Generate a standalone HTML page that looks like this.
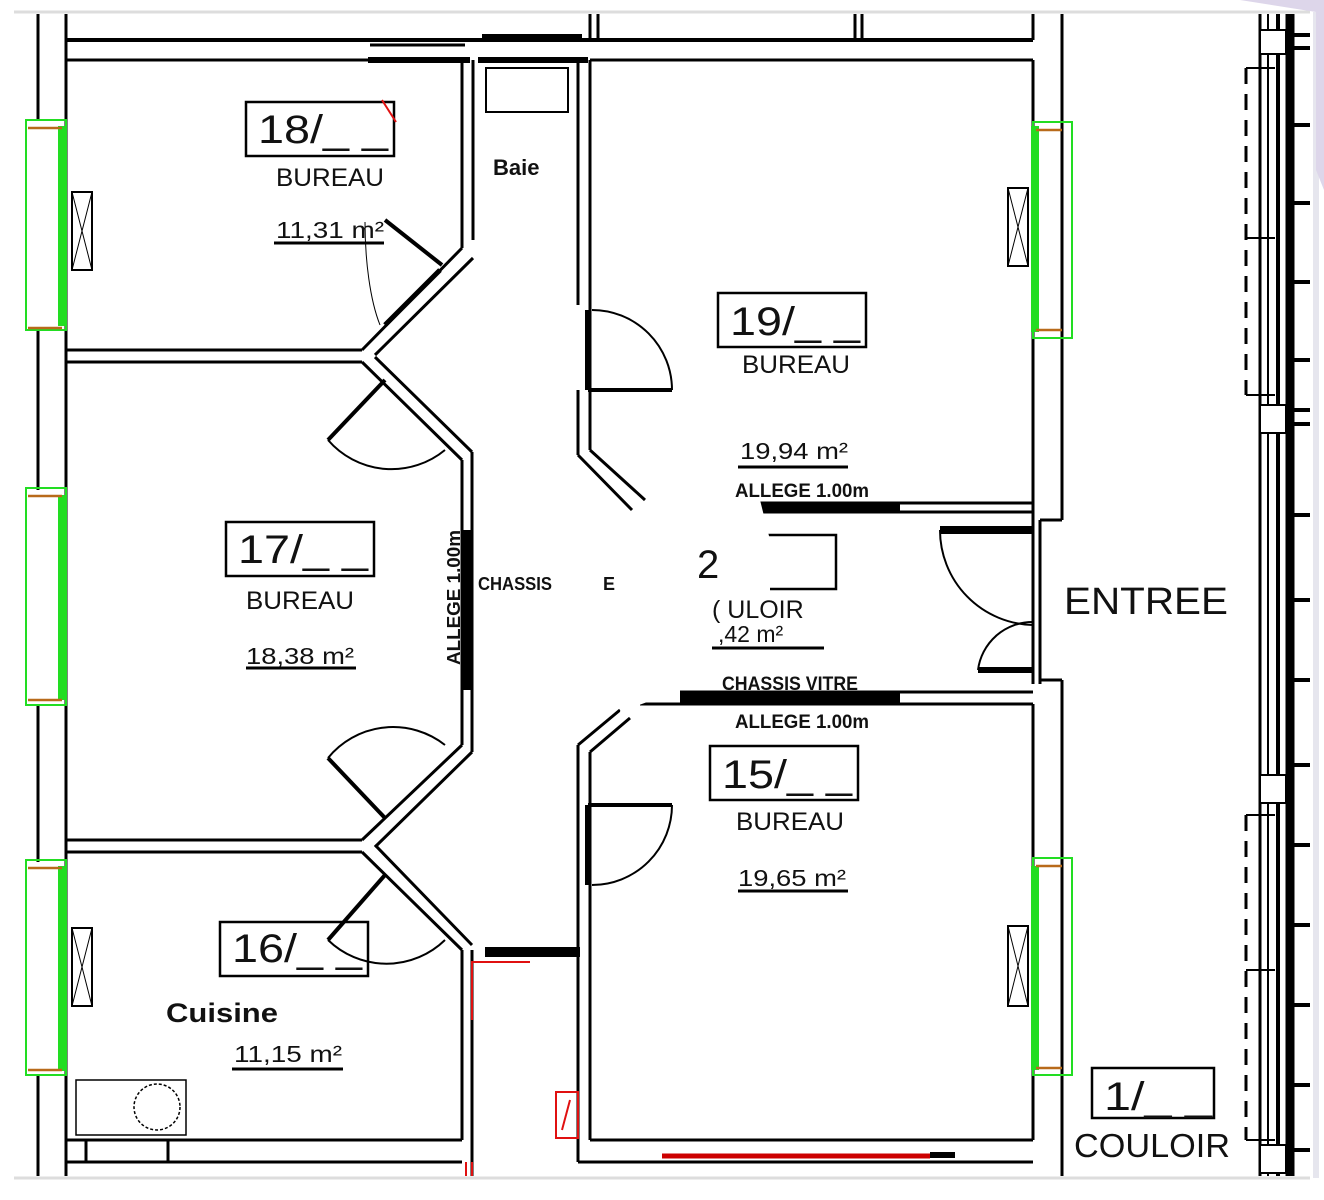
<!DOCTYPE html>
<html><head><meta charset="utf-8"><style>
html,body{margin:0;padding:0;background:#fff;width:1324px;height:1200px;overflow:hidden}
svg{display:block}
text{font-family:"Liberation Sans",sans-serif;fill:#111}
</style></head><body>
<svg width="1324" height="1200" viewBox="0 0 1324 1200" xmlns="http://www.w3.org/2000/svg">
<rect x="0" y="0" width="1324" height="1200" fill="#fff"/>
<line x1="14" y1="12" x2="1310" y2="12" stroke="#ddd" stroke-width="3"/>
<line x1="14" y1="1178" x2="1310" y2="1178" stroke="#ddd" stroke-width="3"/>
<line x1="1316" y1="12" x2="1316" y2="1178" stroke="#e6e6ee" stroke-width="6"/>
<polygon points="1110,0 1324,0 1324,190 1316,170 1316,12 1240,0" fill="#ddd6ea"/>
<g stroke="#000" fill="none" stroke-width="3">
<line x1="38" y1="14" x2="38" y2="120"/><line x1="38" y1="330" x2="38" y2="490"/>
<line x1="38" y1="705" x2="38" y2="862"/><line x1="38" y1="1075" x2="38" y2="1176"/>
<line x1="66" y1="14" x2="66" y2="1176"/>
<line x1="66" y1="40" x2="1033" y2="40" stroke-width="4"/>
<line x1="66" y1="60" x2="465" y2="60"/>
<line x1="370" y1="45" x2="465" y2="45" stroke-width="3"/>
<line x1="368" y1="60" x2="470" y2="60" stroke-width="6"/>
<line x1="482" y1="38" x2="582" y2="38" stroke-width="8"/>
<line x1="478" y1="60" x2="588" y2="60" stroke-width="6"/>
<line x1="590" y1="60" x2="1033" y2="60"/>
<line x1="590" y1="14" x2="590" y2="40"/><line x1="598" y1="14" x2="598" y2="40"/>
<line x1="855" y1="14" x2="855" y2="40"/><line x1="862" y1="14" x2="862" y2="40"/>
<line x1="1033" y1="14" x2="1033" y2="40"/>
<rect x="486" y="68" width="82" height="44" stroke-width="2"/>
<line x1="66" y1="350" x2="362" y2="350"/><line x1="66" y1="362" x2="362" y2="362"/>
<line x1="66" y1="840" x2="362" y2="840"/><line x1="66" y1="852" x2="362" y2="852"/>
<line x1="462" y1="60" x2="462" y2="248"/><line x1="473" y1="60" x2="473" y2="240"/>
<line x1="462" y1="248" x2="362" y2="350"/><line x1="473" y1="258" x2="375" y2="355"/>
<line x1="440" y1="270" x2="385" y2="325" stroke-width="5"/>
<line x1="385" y1="220" x2="442" y2="265" stroke-width="4"/>
<path d="M 365 222 C 365 260 370 300 380 325" stroke-width="1"/>
<line x1="362" y1="362" x2="462" y2="460"/><line x1="375" y1="357" x2="472" y2="452"/>
<line x1="462" y1="460" x2="462" y2="745"/><line x1="472" y1="452" x2="472" y2="752"/>
<line x1="467" y1="530" x2="467" y2="690" stroke-width="10"/>
<line x1="462" y1="745" x2="362" y2="840"/><line x1="472" y1="752" x2="375" y2="847"/>
<line x1="362" y1="852" x2="462" y2="950"/><line x1="375" y1="845" x2="472" y2="945"/>
<line x1="472" y1="950" x2="472" y2="1176"/><line x1="462" y1="950" x2="462" y2="1140"/>
<line x1="485" y1="952" x2="580" y2="952" stroke-width="10"/>
<line x1="385" y1="380" x2="328" y2="440" stroke-width="4"/>
<path d="M 328 440 A 84 84 0 0 0 445 450" stroke-width="2"/>
<line x1="385" y1="818" x2="328" y2="758" stroke-width="4"/>
<path d="M 328 758 A 84 84 0 0 1 445 745" stroke-width="2"/>
<line x1="385" y1="875" x2="328" y2="940" stroke-width="4"/>
<path d="M 328 940 A 84 84 0 0 0 445 940" stroke-width="2"/>
<line x1="578" y1="60" x2="578" y2="305"/><line x1="590" y1="60" x2="590" y2="390"/>
<line x1="578" y1="390" x2="578" y2="455"/><line x1="590" y1="390" x2="590" y2="450"/>
<line x1="578" y1="455" x2="632" y2="510"/><line x1="590" y1="450" x2="645" y2="500"/>
<line x1="588" y1="310" x2="588" y2="390" stroke-width="6"/>
<line x1="588" y1="390" x2="672" y2="390" stroke-width="4"/>
<path d="M 592 310 A 80 80 0 0 1 672 390" stroke-width="2"/>
<line x1="578" y1="745" x2="620" y2="710"/><line x1="590" y1="752" x2="630" y2="718"/>
<line x1="578" y1="745" x2="578" y2="1140"/><line x1="590" y1="752" x2="590" y2="1140"/>
<line x1="588" y1="805" x2="672" y2="805" stroke-width="4"/>
<line x1="588" y1="805" x2="588" y2="885" stroke-width="6"/>
<path d="M 672 805 A 80 80 0 0 1 592 885" stroke-width="2"/>
<line x1="1033" y1="60" x2="1033" y2="520"/>
<line x1="760" y1="503" x2="1033" y2="503"/><line x1="760" y1="512" x2="1033" y2="512"/>
<line x1="760" y1="508" x2="900" y2="508" stroke-width="9"/>
<line x1="1040" y1="520" x2="1040" y2="684"/><line x1="1033" y1="520" x2="1033" y2="684"/>
<line x1="940" y1="530" x2="1033" y2="530" stroke-width="8"/>
<path d="M 940 530 A 95 95 0 0 0 1033 625" stroke-width="2"/>
<line x1="978" y1="670" x2="1033" y2="670" stroke-width="6"/>
<path d="M 978 670 A 55 55 0 0 1 1033 622" stroke-width="2"/>
<line x1="1040" y1="520" x2="1062" y2="520"/><line x1="1040" y1="680" x2="1062" y2="680"/>
<line x1="680" y1="692" x2="1033" y2="692"/><line x1="640" y1="704" x2="1033" y2="704"/>
<line x1="680" y1="698" x2="900" y2="698" stroke-width="10"/>
<line x1="1033" y1="704" x2="1033" y2="1140"/>
<line x1="1062" y1="14" x2="1062" y2="520"/><line x1="1062" y1="680" x2="1062" y2="1176"/>
<line x1="66" y1="1140" x2="462" y2="1140"/><line x1="66" y1="1162" x2="462" y2="1162"/>
<line x1="86" y1="1140" x2="86" y2="1162"/><line x1="168" y1="1140" x2="168" y2="1162"/>
<line x1="590" y1="1140" x2="1033" y2="1140"/><line x1="578" y1="1162" x2="1033" y2="1162"/>
<line x1="578" y1="1140" x2="578" y2="1162"/>
<line x1="930" y1="1155" x2="955" y2="1155" stroke-width="6"/>
<rect x="72" y="192" width="20" height="78" stroke-width="2"/><path d="M72 192 L92 270 M92 192 L72 270" stroke-width="1"/>
<rect x="72" y="928" width="20" height="78" stroke-width="2"/><path d="M72 928 L92 1006 M92 928 L72 1006" stroke-width="1"/>
<rect x="1008" y="188" width="20" height="78" stroke-width="2"/><path d="M1008 188 L1028 266 M1028 188 L1008 266" stroke-width="1"/>
<rect x="1008" y="926" width="20" height="80" stroke-width="2"/><path d="M1008 926 L1028 1006 M1028 926 L1008 1006" stroke-width="1"/>
<rect x="76" y="1080" width="110" height="55" stroke-width="1.5"/>
<circle cx="157" cy="1107" r="23" stroke-width="1.5" stroke-dasharray="3 2"/>
<line x1="1260" y1="14" x2="1260" y2="1176"/>
<line x1="1268" y1="14" x2="1268" y2="1176" stroke-width="2"/>
<line x1="1278" y1="14" x2="1278" y2="1176" stroke-width="4"/>
<line x1="1290" y1="14" x2="1290" y2="1176" stroke-width="9"/>
<rect x="1260" y="30" width="26" height="24" fill="#fff" stroke-width="2"/>
<rect x="1260" y="405" width="26" height="28" fill="#fff" stroke-width="2"/>
<rect x="1260" y="775" width="26" height="28" fill="#fff" stroke-width="2"/>
<rect x="1260" y="1145" width="26" height="28" fill="#fff" stroke-width="2"/>
<g stroke-width="4">
<line x1="1292" y1="35" x2="1310" y2="35"/><line x1="1292" y1="48" x2="1310" y2="48"/>
<line x1="1292" y1="125" x2="1310" y2="125"/><line x1="1292" y1="203" x2="1310" y2="203"/>
<line x1="1292" y1="282" x2="1310" y2="282"/><line x1="1292" y1="360" x2="1310" y2="360"/>
<line x1="1292" y1="410" x2="1310" y2="410"/><line x1="1292" y1="424" x2="1310" y2="424"/>
<line x1="1292" y1="515" x2="1310" y2="515"/><line x1="1292" y1="600" x2="1310" y2="600"/>
<line x1="1292" y1="680" x2="1310" y2="680"/><line x1="1292" y1="765" x2="1310" y2="765"/>
<line x1="1292" y1="845" x2="1310" y2="845"/><line x1="1292" y1="925" x2="1310" y2="925"/>
<line x1="1292" y1="1005" x2="1310" y2="1005"/><line x1="1292" y1="1085" x2="1310" y2="1085"/>
<line x1="1292" y1="1150" x2="1310" y2="1150"/>
</g>
<g stroke-width="3" stroke-dasharray="16 10">
<line x1="1246" y1="68" x2="1246" y2="395"/><line x1="1246" y1="815" x2="1246" y2="1140"/>
</g>
<g stroke-width="2">
<line x1="1246" y1="68" x2="1275" y2="68"/><line x1="1246" y1="238" x2="1275" y2="238"/>
<line x1="1246" y1="395" x2="1275" y2="395"/><line x1="1246" y1="815" x2="1275" y2="815"/>
<line x1="1246" y1="970" x2="1275" y2="970"/><line x1="1246" y1="1140" x2="1275" y2="1140"/>
</g>
<rect x="246" y="102" width="148" height="54" stroke-width="2.5"/>
<rect x="718" y="293" width="148" height="54" stroke-width="2.5"/>
<rect x="226" y="522" width="148" height="54" stroke-width="2.5"/>
<rect x="688" y="535" width="148" height="54" stroke-width="2.5"/>
<rect x="710" y="746" width="148" height="54" stroke-width="2.5"/>
<rect x="220" y="922" width="148" height="54" stroke-width="2.5"/>
<rect x="1092" y="1068" width="122" height="50" stroke-width="2.5"/>
<line x1="274" y1="243" x2="384" y2="243"/>
<line x1="738" y1="467" x2="848" y2="467"/>
<line x1="246" y1="668" x2="356" y2="668"/>
<line x1="712" y1="648" x2="824" y2="648"/>
<line x1="738" y1="891" x2="848" y2="891"/>
<line x1="232" y1="1069" x2="343" y2="1069"/>
</g>
<path d="M 640 510 L 760 500 L 775 560 L 720 605 L 700 650 L 680 690 L 620 712 L 640 600 Z" fill="#fff"/>
<rect x="722" y="540" width="48" height="60" fill="#fff"/>
<g fill="none">
<rect x="26" y="120" width="40" height="210" stroke="#22dd22" stroke-width="2"/>
<rect x="26" y="488" width="40" height="217" stroke="#22dd22" stroke-width="2"/>
<rect x="26" y="860" width="40" height="215" stroke="#22dd22" stroke-width="2"/>
<rect x="1033" y="122" width="39" height="216" stroke="#22dd22" stroke-width="2"/>
<rect x="1033" y="858" width="39" height="217" stroke="#22dd22" stroke-width="2"/>
</g>
<g fill="#22dd22">
<rect x="58" y="126" width="8" height="200"/><rect x="58" y="495" width="8" height="205"/>
<rect x="58" y="866" width="8" height="205"/><rect x="1031" y="126" width="8" height="206"/>
<rect x="1031" y="866" width="8" height="204"/>
</g>
<g stroke="#b86a1a" stroke-width="2.5" fill="none">
<path d="M28 128 H62"/><path d="M28 328 H62"/><path d="M28 496 H62"/><path d="M28 700 H62"/>
<path d="M28 868 H62"/><path d="M28 1070 H62"/><path d="M1036 130 H1062"/><path d="M1036 330 H1062"/>
<path d="M1036 866 H1062"/><path d="M1036 1068 H1062"/>
</g>
<g stroke="#e01010" fill="none" stroke-width="2">
<path d="M 472 1020 V 962 H 530"/><rect x="556" y="1092" width="22" height="46"/>
<path d="M 562 1130 L 570 1100 L 566 1115"/><path d="M 466 1162 V 1176 M 472 1162 V 1176"/>
<line x1="382" y1="100" x2="396" y2="122"/>
</g>
<line x1="662" y1="1156" x2="930" y2="1156" stroke="#c00" stroke-width="5"/>
<text x="258" y="143" font-size="40" textLength="130" lengthAdjust="spacingAndGlyphs">18/_ _</text>
<text x="276" y="186" font-size="25" textLength="108" lengthAdjust="spacingAndGlyphs">BUREAU</text>
<text x="276" y="238" font-size="23" textLength="108" lengthAdjust="spacingAndGlyphs">11,31 m²</text>
<text x="493" y="175" font-size="22" font-weight="bold">Baie</text>
<text x="730" y="335" font-size="40" textLength="130" lengthAdjust="spacingAndGlyphs">19/_ _</text>
<text x="742" y="373" font-size="25" textLength="108" lengthAdjust="spacingAndGlyphs">BUREAU</text>
<text x="740" y="459" font-size="23" textLength="108" lengthAdjust="spacingAndGlyphs">19,94 m²</text>
<text x="735" y="497" font-size="19" font-weight="bold" textLength="134" lengthAdjust="spacingAndGlyphs">ALLEGE 1.00m</text>
<text x="238" y="563" font-size="40" textLength="130" lengthAdjust="spacingAndGlyphs">17/_ _</text>
<text x="246" y="609" font-size="25" textLength="108" lengthAdjust="spacingAndGlyphs">BUREAU</text>
<text x="246" y="664" font-size="23" textLength="108" lengthAdjust="spacingAndGlyphs">18,38 m²</text>
<text x="478" y="590" font-size="18" font-weight="bold" textLength="74" lengthAdjust="spacingAndGlyphs">CHASSIS</text>
<text x="603" y="590" font-size="18" font-weight="bold">E</text>
<text transform="translate(460,665) rotate(-90)" font-size="18" font-weight="bold" textLength="135" lengthAdjust="spacingAndGlyphs">ALLEGE 1.00m</text>
<text x="697" y="578" font-size="40">2</text>
<text x="712" y="618" font-size="25">( ULOIR</text>
<text x="718" y="642" font-size="23">,42 m²</text>
<text x="722" y="690" font-size="19" font-weight="bold" textLength="136" lengthAdjust="spacingAndGlyphs">CHASSIS VITRE</text>
<text x="735" y="728" font-size="19" font-weight="bold" textLength="134" lengthAdjust="spacingAndGlyphs">ALLEGE 1.00m</text>
<text x="722" y="788" font-size="40" textLength="130" lengthAdjust="spacingAndGlyphs">15/_ _</text>
<text x="736" y="830" font-size="25" textLength="108" lengthAdjust="spacingAndGlyphs">BUREAU</text>
<text x="738" y="886" font-size="23" textLength="108" lengthAdjust="spacingAndGlyphs">19,65 m²</text>
<text x="232" y="962" font-size="40" textLength="130" lengthAdjust="spacingAndGlyphs">16/_ _</text>
<text x="166" y="1022" font-size="27" font-weight="bold" textLength="112" lengthAdjust="spacingAndGlyphs">Cuisine</text>
<text x="234" y="1062" font-size="23" textLength="108" lengthAdjust="spacingAndGlyphs">11,15 m²</text>
<text x="1064" y="614" font-size="38" textLength="164" lengthAdjust="spacingAndGlyphs">ENTREE</text>
<text x="1104" y="1110" font-size="40" textLength="108" lengthAdjust="spacingAndGlyphs">1/_ _</text>
<text x="1074" y="1157" font-size="33" textLength="156" lengthAdjust="spacingAndGlyphs">COULOIR</text>
</svg>
</body></html>
